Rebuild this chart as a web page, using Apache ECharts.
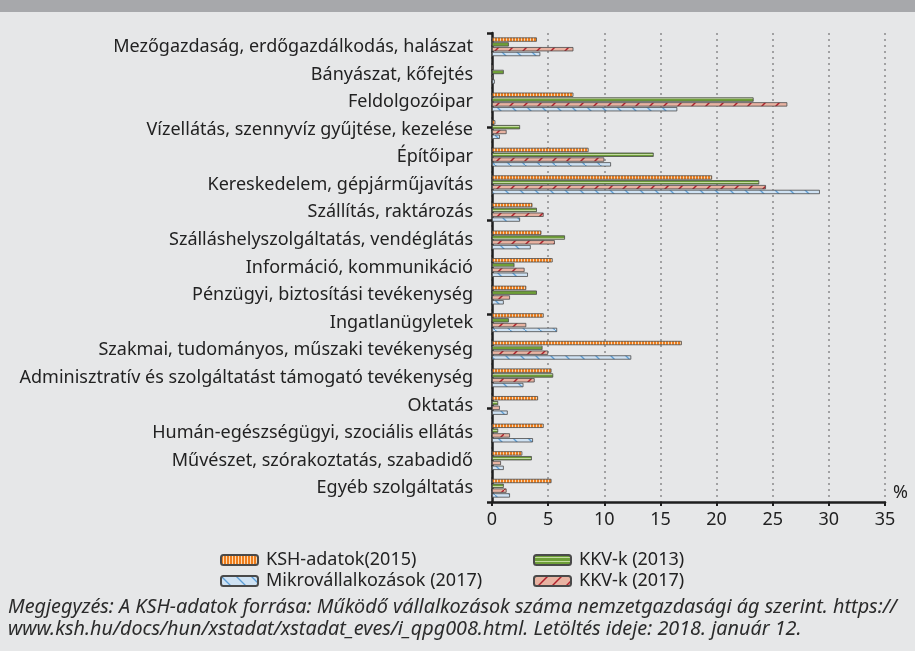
<!DOCTYPE html>
<html>
<head>
    <meta charset="utf-8">
    <title>Nemzetgazdasági ágak megoszlása</title>
    <script src="https://cdn.jsdelivr.net/npm/echarts@6/dist/echarts.min.js"></script>
	<style>
		html, body { margin: 0; padding: 0; background: #e6e7e8; }
		#main { width: 915px; height: 651px; }
	</style>
</head>
<body>
    <div id="main"></div>
    <script type="text/javascript">
        // adatok
        var categories = [
            'Mezőgazdaság, erdőgazdálkodás, halászat',
            'Bányászat, kőfejtés',
            'Feldolgozóipar',
            'Vízellátás, szennyvíz gyűjtése, kezelése',
            'Építőipar',
            'Kereskedelem, gépjárműjavítás',
            'Szállítás, raktározás',
            'Szálláshelyszolgáltatás, vendéglátás',
            'Információ, kommunikáció',
            'Pénzügyi, biztosítási tevékenység',
            'Ingatlanügyletek',
            'Szakmai, tudományos, műszaki tevékenység',
            'Adminisztratív és szolgáltatást támogató tevékenység',
            'Oktatás',
            'Humán-egészségügyi, szociális ellátás',
            'Művészet, szórakoztatás, szabadidő',
            'Egyéb szolgáltatás'
        ];
        var ksh2015  = [4.0, 0.1, 7.25, 0.3, 8.6, 19.6, 3.6, 4.4, 5.4, 3.05, 4.6, 16.9, 5.3, 4.1, 4.6, 2.7, 5.3];
        var kkv2013  = [1.5, 1.05, 23.3, 2.5, 14.4, 23.8, 4.0, 6.5, 2.0, 4.0, 1.5, 4.5, 5.45, 0.55, 0.55, 3.55, 1.05];
        var kkv2017  = [7.25, 0.1, 26.3, 1.3, 10.0, 24.4, 4.6, 5.6, 2.9, 1.6, 3.05, 5.0, 3.8, 0.7, 1.6, 0.8, 1.3];
        var mikro2017 = [4.3, 0.25, 16.5, 0.7, 10.6, 29.2, 2.5, 3.45, 3.2, 1.05, 5.8, 12.4, 2.8, 1.4, 3.65, 1.05, 1.6];
        var xTicks = [0, 5, 10, 15, 20, 25, 30, 35];

        var FONT = '"Noto Sans"';

        // mintázatok (Excel-szerű kitöltések)
        function makePattern(w, h, draw) {
            var c = document.createElement('canvas');
            c.width = w; c.height = h;
            draw(c.getContext('2d'), w, h);
            return { image: c, repeat: 'repeat' };
        }
        var orangePat = makePattern(3, 4, function (g, w, h) {
            g.fillStyle = '#ee7d1c'; g.fillRect(0, 0, w, h);
            g.fillStyle = '#fcd9b0'; g.fillRect(2, 0, 1, h);
        });
        var greenPat = makePattern(4, 4, function (g, w, h) {
            g.fillStyle = '#6e9f38'; g.fillRect(0, 0, w, h);
            g.fillStyle = '#c3dba0'; g.fillRect(0, 2, w, 1);
        });
        var redPat = makePattern(14, 14, function (g, w, h) {
            g.fillStyle = '#e8b3a2'; g.fillRect(0, 0, w, h);
            g.strokeStyle = '#b0212c'; g.lineWidth = 1.5;
            g.beginPath(); g.moveTo(0, h); g.lineTo(w, 0); g.stroke();
        });
        var bluePat = makePattern(15, 15, function (g, w, h) {
            g.fillStyle = '#cfe2f3'; g.fillRect(0, 0, w, h);
            g.strokeStyle = '#5d9ed6'; g.lineWidth = 1.3;
            g.beginPath(); g.moveTo(0, 0); g.lineTo(w, h); g.stroke();
        });

        var myChart = echarts.init(document.getElementById('main'));

        function barSeries(name, data, pat) {
            return {
                name: name,
                type: 'bar',
                data: data,
                barWidth: 4.3,
                barGap: '12%',
                itemStyle: { color: pat, borderColor: '#4a4a4a', borderWidth: 0.8 }
            };
        }

        var legendText = { fontSize: 18, color: '#222', fontFamily: FONT, padding: [0, 0, 0, 3] };

        myChart.setOption({
            backgroundColor: '#e6e7e8',
            animation: false,
            textStyle: { fontFamily: FONT },
            graphic: [
                { type: 'rect', left: 0, top: 0, shape: { width: 915, height: 12 }, style: { fill: '#a7a8ab' } },
                {
                    type: 'text', left: 8, top: 596,
                    style: {
                        text: 'Megjegyzés: A KSH-adatok forrása: Működő vállalkozások száma nemzetgazdasági ág szerint. https://\nwww.ksh.hu/docs/hun/xstadat/xstadat_eves/i_qpg008.html. Letöltés ideje: 2018. január 12.',
                        font: 'italic 19.8px ' + FONT,
                        lineHeight: 22.5,
                        fill: '#2b2b2b'
                    }
                }
            ],
            legend: [
                {
                    data: ['KSH-adatok(2015)', 'Mikrovállalkozások (2017)'],
                    orient: 'vertical', left: 215, top: 546,
                    itemWidth: 37, itemHeight: 10, itemGap: 3,
                    textStyle: legendText
                },
                {
                    data: ['KKV-k (2013)', 'KKV-k (2017)'],
                    orient: 'vertical', left: 528, top: 546,
                    itemWidth: 37, itemHeight: 10, itemGap: 3,
                    textStyle: legendText
                }
            ],
            grid: { left: 492, right: 30, top: 33, bottom: 149 },
            xAxis: {
                type: 'value',
                min: 0, max: 35, interval: 5,
                name: '%',
                nameLocation: 'end',
                nameGap: 8,
                nameTextStyle: { fontSize: 18, color: '#222', verticalAlign: 'bottom', fontFamily: FONT },
                axisLine: { show: true, lineStyle: { color: '#1e1e1e', width: 2.5 } },
                axisTick: { show: true, length: 4, lineStyle: { color: '#1e1e1e', width: 2 } },
                axisLabel: {
                    fontSize: 18, color: '#222', margin: 9,
                    formatter: function (v) { return xTicks.indexOf(v) >= 0 ? String(v) : ''; }
                },
                splitLine: { show: true, lineStyle: { color: '#8a8a8a', width: 1.5, type: [2, 4] } }
            },
            yAxis: [
                {
                    type: 'category',
                    inverse: true,
                    data: categories,
                    axisLine: { show: true, lineStyle: { color: '#1e1e1e', width: 2.5 } },
                    axisTick: { show: false },
                    axisLabel: { fontSize: 18, color: '#222', margin: 19, fontFamily: FONT }
                },
                {
                    type: 'value',
                    position: 'left',
                    min: 0, max: 5, interval: 1,
                    axisLine: { show: false },
                    axisTick: { show: true, length: 5, lineStyle: { color: '#1e1e1e', width: 2.5 } },
                    axisLabel: { show: false },
                    splitLine: { show: false }
                }
            ],
            series: [
                barSeries('KSH-adatok(2015)', ksh2015, orangePat),
                barSeries('KKV-k (2013)', kkv2013, greenPat),
                barSeries('KKV-k (2017)', kkv2017, redPat),
                barSeries('Mikrovállalkozások (2017)', mikro2017, bluePat)
            ]
        });
    </script>
</body>
</html>
